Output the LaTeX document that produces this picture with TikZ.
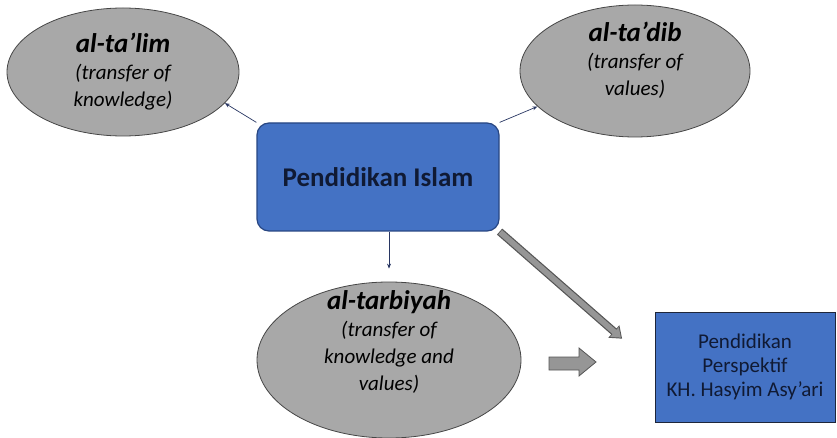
\documentclass[tikz,border=0pt]{standalone}
\usepackage{fontspec}
\setmainfont{Carlito}
\usetikzlibrary{arrows.meta,shapes.geometric,positioning}

\definecolor{bubblegray}{RGB}{168,168,168}
\definecolor{bubbleedge}{RGB}{70,70,70}
\definecolor{boxblue}{RGB}{68,114,196}
\definecolor{boxedge}{RGB}{40,70,130}
\definecolor{darkedge}{RGB}{30,38,58}
\definecolor{inkblue}{RGB}{16,26,52}
\definecolor{linkblue}{RGB}{40,54,98}
\definecolor{bigarrow}{RGB}{150,150,150}
\definecolor{bigarrowedge}{RGB}{85,85,85}

\tikzset{
  bubble/.style={ellipse, draw=bubbleedge, fill=bubblegray, line width=0.8pt, inner sep=0pt},
  bubbletext/.style={align=center, inner sep=0pt, font=\fontsize{21}{27}\selectfont\itshape},
  link/.style={draw=linkblue, line width=0.7pt, -{Stealth[length=5pt,width=4pt]}},
}
\newcommand{\bubbletitle}[1]{{\fontsize{27}{30}\selectfont\bfseries\itshape #1}}

\begin{document}
\begin{tikzpicture}[x=1pt, y=-1pt]

  \useasboundingbox (0,0) rectangle (837,438);

  % --- the three ellipses ---
  \node[bubble, minimum width=232pt, minimum height=128pt] (talim) at (123,72) {};
  \node[bubble, minimum width=230pt, minimum height=132pt] (tadib) at (635,71) {};
  \node[bubble, minimum width=264pt, minimum height=156pt] (tarbiyah) at (389,360) {};

  \node[bubbletext] (talimtext) at (123,72)
    {\bubbletitle{al-ta’lim}\\(transfer of\\knowledge)};
  \node[bubbletext] (tadibtext) at (635,60)
    {\bubbletitle{al-ta’dib}\\(transfer of\\values)};
  \node[bubbletext] (tarbiyahtext) at (389,342)
    {\bubbletitle{al-tarbiyah}\\(transfer of\\knowledge and\\values)};

  % --- the two boxes ---
  \node[draw=boxedge, fill=boxblue, line width=1.2pt, rounded corners=12pt,
        minimum width=242pt, minimum height=108pt, text=inkblue,
        font=\fontsize{27}{32}\selectfont\bfseries] (pendidikan) at (378,177) {Pendidikan Islam};
  \node[draw=darkedge, fill=boxblue, line width=1pt, minimum width=180pt, minimum height=110pt,
        align=center, text=inkblue, font=\fontsize{21}{24}\selectfont] (hasyim) at (745,367)
    {Pendidikan\\Perspektif\\KH. Hasyim Asy’ari};

  % --- thin arrows ---
  \draw[link] (pendidikan.north west) -- (talim.-17);
  \draw[link] (pendidikan.north east) -- (tadib.200);
  \draw[link] (pendidikan.south -| tarbiyah.north) -- (tarbiyah.north) [shorten >=13pt];

  % --- thick gray arrow ---
  \draw[line width=8pt, draw=bigarrowedge, shorten >=43pt,
        -{Triangle[length=11pt,width=16pt]}] (pendidikan.south east) -- (hasyim.west);
  \draw[line width=5.6pt, draw=bigarrow, shorten >=44.6pt, shorten <=0.8pt,
        -{Triangle[length=8.6pt,width=12.6pt]}] (pendidikan.south east) -- (hasyim.west);

  % --- block arrow ---
  \draw[draw=bigarrowedge, fill=bigarrow, line width=0.8pt]
    (549,357) -- (579,357) -- (579,348) -- (596,362) -- (579,376) -- (579,370) -- (549,370) -- cycle;

\end{tikzpicture}
\end{document}
